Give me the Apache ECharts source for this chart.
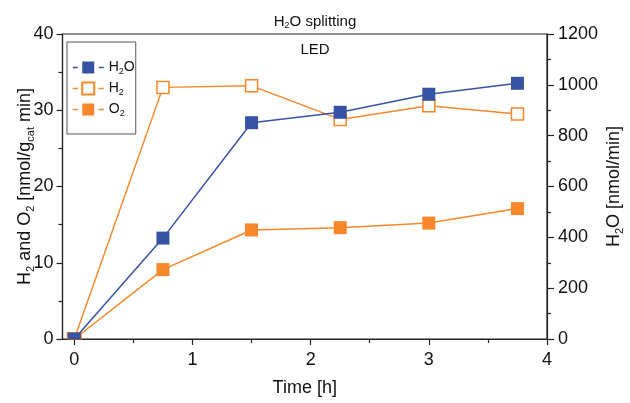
<!DOCTYPE html>
<html><head><meta charset="utf-8">
<script src="https://cdn.jsdelivr.net/npm/echarts@6/dist/echarts.min.js"></script>
<style>html,body{margin:0;padding:0;background:#fff}#c{width:630px;height:403px}</style>
</head><body><div id="c"></div>
<script>
var timeH = [0, 0.75, 1.5, 2.25, 3, 3.75];
var h2oRate = [0, 397, 851, 892, 963, 1006];
var h2Rate = [0, 33.0, 33.2, 28.8, 30.6, 29.5];
var o2Rate = [0, 9.1, 14.3, 14.6, 15.2, 17.1];
var xTicks = [0, 1, 2, 3, 4];
var xMinorTicks = [0.5, 1.5, 2.5, 3.5];

var BLUE = '#3753a6', ORANGE = '#f7872a';
var FONT = 'Liberation Sans, Arial, sans-serif';
var MS = 13;
// points sitting on the bottom axis are clipped to their upper half, as in the original
function pairs(ys){
  return timeH.map(function(t,i){
    if (ys[i] === 0) {
      return {value: [t, ys[i]], symbol: 'path://M0,0H10V5H0Z', symbolSize: [MS, MS/2], symbolOffset: [0, -MS/4]};
    }
    return [t, ys[i]];
  });
}
function richSet(fs){
  var sfs = Math.round(fs*0.62);
  return {
    n: {fontSize: fs, fontWeight: 'normal', fontFamily: FONT, color: '#111'},
    s: {fontSize: sfs, fontWeight: 'normal', lineHeight: sfs, padding: [Math.round(fs*0.6),0,0,0], fontFamily: FONT, color: '#111'}
  };
}
var axisColor = '#222';
var gridH = 403 - 34 - 64;
var chart = echarts.init(document.getElementById('c'), null, {renderer: 'canvas'});
chart.setOption({
  animation: false,
  backgroundColor: '#fff',
  title: [
    {text: '{n|H}{s|2}{n|O splitting}', left: 'center', top: 9,
     textStyle: {fontWeight: 'normal', rich: richSet(15)}},
    {text: 'LED', left: 'center', top: 37, textStyle: {fontSize: 15, fontWeight: 'normal', fontFamily: FONT, color: '#111'}}
  ],
  grid: {left: 62.5, right: 83, top: 34, bottom: 64, show: true, borderColor: axisColor, borderWidth: 1.2,
         containLabel: false, outerBoundsMode: 'none'},
  legend: {
    orient: 'vertical', left: 67, top: 42,
    data: ['H2O', 'H2', 'O2'],
    itemWidth: 31, itemHeight: 15, itemGap: 4,
    lineStyle: {type: [5, 21], width: 1.5},
    borderColor: '#555', borderWidth: 1, padding: [17, 1, 16, 5],
    formatter: function(n){
      if (n === 'H2O') return '{n|H}{s|2}{n|O}';
      if (n === 'H2') return '{n|H}{s|2}';
      return '{n|O}{s|2}';
    },
    textStyle: {rich: richSet(14)}
  },
  xAxis: [{
    type: 'value', min: -0.1, max: 4,
    name: 'Time [h]', nameLocation: 'middle', nameGap: 40, nameMoveOverlap: false,
    nameTextStyle: {fontSize: 18, fontFamily: FONT, color: '#111'},
    axisLine: {show: true, onZero: false, lineStyle: {color: axisColor, width: 1.2}},
    axisTick: {show: true, customValues: xTicks, length: 6, lineStyle: {color: axisColor, width: 1.2}},
    axisLabel: {customValues: xTicks, fontSize: 18, fontFamily: FONT, color: '#111', margin: 12},
    splitLine: {show: false}
  }, {
    type: 'value', min: -0.1, max: 4, position: 'top', offset: -gridH,
    axisLine: {show: false, onZero: false},
    axisTick: {show: true, inside: true, customValues: xMinorTicks, length: 4, lineStyle: {color: axisColor, width: 1.2}},
    axisLabel: {show: false}, splitLine: {show: false}
  }],
  yAxis: [{
    type: 'value', min: 0, max: 40, interval: 10, position: 'left',
    name: '{n|H}{s|2}{n| and O}{s|2}{n| [nmol/g}{s|cat}{n| min]}',
    nameLocation: 'middle', nameGap: 28, nameMoveOverlap: false,
    nameTextStyle: {rich: richSet(18)},
    axisLine: {show: true, onZero: false, lineStyle: {color: axisColor, width: 1.2}},
    axisTick: {show: true, length: 6, lineStyle: {color: axisColor, width: 1.2}},
    minorTick: {show: true, splitNumber: 2, length: 4, lineStyle: {color: axisColor, width: 1.2}},
    axisLabel: {fontSize: 18, fontFamily: FONT, color: '#111', margin: 9},
    splitLine: {show: false}
  }, {
    type: 'value', min: 0, max: 1200, interval: 200, position: 'right',
    name: '{n|H}{s|2}{n|O [nmol/min]}',
    nameLocation: 'middle', nameGap: 58, nameMoveOverlap: false,
    nameTextStyle: {rich: richSet(18)},
    axisLine: {show: true, onZero: false, lineStyle: {color: axisColor, width: 1.2}},
    axisTick: {show: true, length: 7, lineStyle: {color: axisColor, width: 1.2}},
    minorTick: {show: true, splitNumber: 2, length: 4, lineStyle: {color: axisColor, width: 1.2}},
    axisLabel: {fontSize: 18, fontFamily: FONT, color: '#111', margin: 11, formatter: function(v){ return String(v); }},
    splitLine: {show: false}
  }],
  series: [{
    name: 'H2', type: 'line', yAxisIndex: 0, z: 2,
    data: pairs(h2Rate), symbol: 'rect', symbolSize: MS - 1,
    lineStyle: {color: ORANGE, width: 1.5},
    itemStyle: {color: '#fff', borderColor: ORANGE, borderWidth: 1.5}
  }, {
    name: 'O2', type: 'line', yAxisIndex: 0, z: 3,
    data: pairs(o2Rate), symbol: 'rect', symbolSize: MS,
    lineStyle: {color: ORANGE, width: 1.5},
    itemStyle: {color: ORANGE, borderColor: ORANGE, borderWidth: 0}
  }, {
    name: 'H2O', type: 'line', yAxisIndex: 1, z: 4,
    data: pairs(h2oRate), symbol: 'rect', symbolSize: MS,
    lineStyle: {color: BLUE, width: 1.5},
    itemStyle: {color: BLUE, borderColor: BLUE, borderWidth: 0}
  }]
});
</script></body></html>
